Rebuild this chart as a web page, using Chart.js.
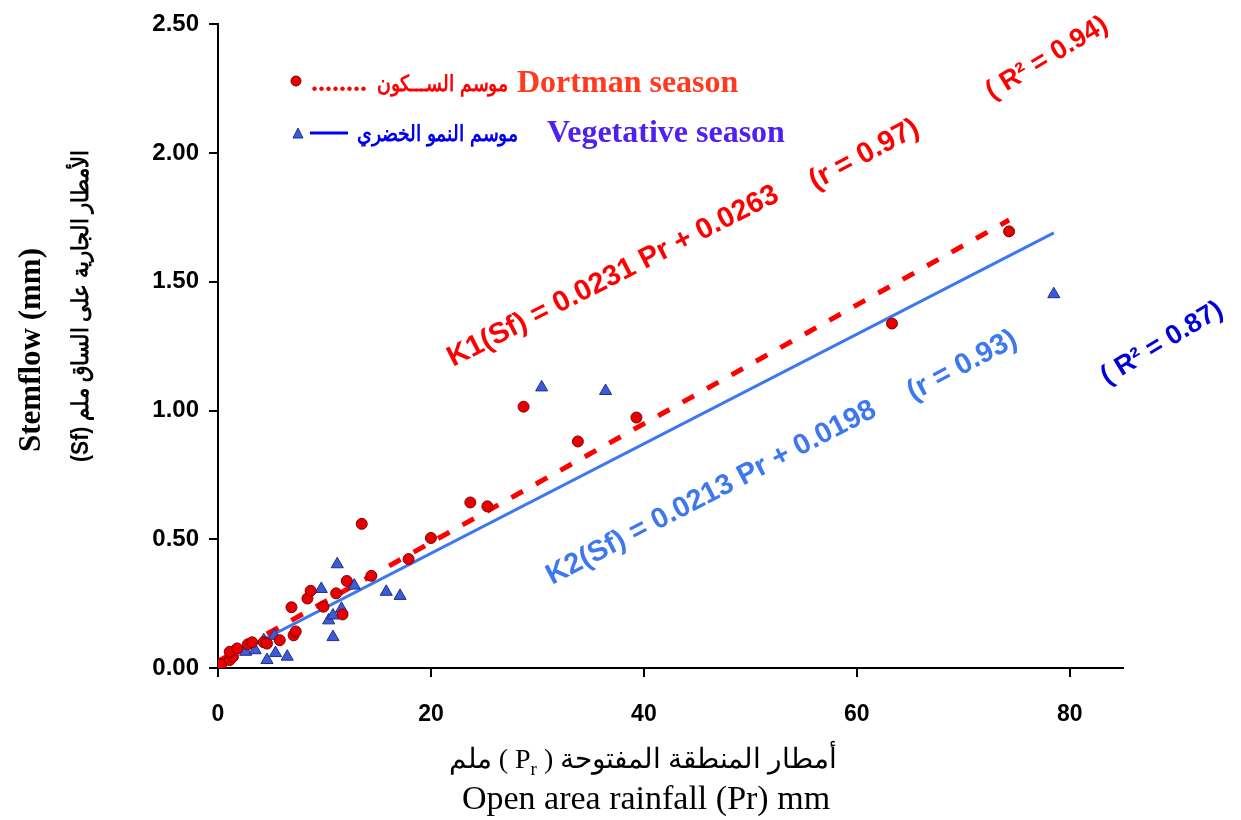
<!DOCTYPE html>
<html>
<head>
<meta charset="utf-8">
<script src="https://cdn.jsdelivr.net/npm/chart.js@4"></script>
<style>
  body { margin: 0; background: #fff; }
  #chart { display: block; }
</style>
</head>
<body>
<canvas id="chart" width="1241" height="820"></canvas>
<script>
// Dortman (dormant) season observations: open area rainfall (mm) vs stemflow (mm)
const dortX = [0.3, 1.1, 1.4, 1.1, 1.8, 2.8, 3.2, 4.3, 4.6, 5.8, 6.9, 7.1, 7.3, 8.4, 8.7, 9.9, 11.1, 11.7, 12.1, 13.5, 14.4, 17.9, 20.0, 23.7, 25.3, 28.7, 33.8, 39.3, 63.3, 74.3];
const dortY = [0.015, 0.031, 0.044, 0.063, 0.076, 0.092, 0.10, 0.10, 0.095, 0.108, 0.236, 0.127, 0.142, 0.27, 0.30, 0.238, 0.29, 0.208, 0.338, 0.56, 0.358, 0.423, 0.505, 0.643, 0.628, 1.015, 0.88, 0.973, 1.338, 1.696];

// Vegetative season observations
const vegX = [2.6, 3.5, 4.3, 4.6, 5.3, 5.4, 6.5, 9.7, 10.4, 10.8, 10.8, 11.2, 11.6, 12.8, 15.8, 17.1, 30.4, 36.4, 78.5];
const vegY = [0.063, 0.069, 0.108, 0.031, 0.125, 0.058, 0.044, 0.307, 0.185, 0.204, 0.12, 0.403, 0.23, 0.32, 0.296, 0.28, 1.09, 1.076, 1.452];

// fitted lines, end points
const dortFitX = [0, 74.3];
const dortFitY = [0.026, 1.74];
const vegFitX = [0, 78.5];
const vegFitY = [0.02, 1.69];

const xTicks = [0, 20, 40, 60, 80];
const yTicks = [0, 0.5, 1, 1.5, 2, 2.5];

const SANS = '"Liberation Sans", Arial, sans-serif';
const SERIF = '"Liberation Serif", "Times New Roman", serif';

function toPoints(xs, ys) {
    return xs.map((x, i) => ({ x: x, y: ys[i] }));
}

function rotText(ctx, text, x, y, deg, font, color) {
    ctx.save();
    ctx.translate(x, y);
    ctx.rotate(deg * Math.PI / 180);
    ctx.font = font;
    ctx.fillStyle = color;
    ctx.textAlign = "left";
    ctx.textBaseline = "alphabetic";
    ctx.fillText(text, 0, 0);
    ctx.restore();
}

// draws legend, axis titles and equation labels
const textPlugin = {
    id: "texts",
    afterDraw(chart) {
        const ctx = chart.ctx;

        // legend row 1
        ctx.save();
        ctx.beginPath();
        ctx.arc(296, 81, 5, 0, Math.PI * 2);
        ctx.fillStyle = "#e60000";
        ctx.fill();
        ctx.strokeStyle = "#800000";
        ctx.lineWidth = 1;
        ctx.stroke();

        ctx.textBaseline = "alphabetic";
        ctx.textAlign = "left";
        ctx.font = "bold 28px " + SERIF;
        ctx.fillStyle = "#ff0000";
        ctx.fillText("........", 311, 91, 57);
        ctx.font = "bold 22px " + SANS;
        ctx.fillText("موسم الســـكون", 377, 91, 131);
        ctx.font = "bold 32px " + SERIF;
        ctx.fillStyle = "#ff3a1e";
        ctx.fillText("Dortman season", 517, 92);

        // legend row 2
        ctx.beginPath();
        ctx.moveTo(298, 128);
        ctx.lineTo(303, 138);
        ctx.lineTo(293, 138);
        ctx.closePath();
        ctx.fillStyle = "#3c5cd6";
        ctx.fill();
        ctx.strokeStyle = "#1f2f8f";
        ctx.stroke();

        ctx.beginPath();
        ctx.moveTo(310, 133);
        ctx.lineTo(348, 133);
        ctx.strokeStyle = "#0000ff";
        ctx.lineWidth = 3;
        ctx.stroke();

        ctx.font = "bold 22px " + SANS;
        ctx.fillStyle = "#0000ee";
        ctx.fillText("موسم النمو الخضري", 357, 141, 161);
        ctx.font = "bold 32px " + SERIF;
        ctx.fillStyle = "#5020f0";
        ctx.fillText("Vegetative season", 547, 142);
        ctx.restore();

        // y axis titles
        ctx.save();
        ctx.translate(32, 350);
        ctx.rotate(-Math.PI / 2);
        ctx.textAlign = "center";
        ctx.textBaseline = "middle";
        ctx.font = "bold 31px " + SERIF;
        ctx.fillStyle = "#000";
        ctx.fillText("Stemflow (mm)", 0, 0);
        ctx.restore();

        ctx.save();
        ctx.translate(82, 306);
        ctx.rotate(-Math.PI / 2);
        ctx.direction = "rtl";
        ctx.textAlign = "center";
        ctx.textBaseline = "middle";
        ctx.font = "bold 23px " + SANS;
        ctx.fillStyle = "#000";
        ctx.fillText("الأمطار الجارية على الساق ملم (Sf)", 0, 0, 312);
        ctx.restore();

        // x axis titles, right-to-left line laid out piece by piece (left to right on screen)
        ctx.save();
        ctx.fillStyle = "#000";
        ctx.textBaseline = "alphabetic";
        ctx.textAlign = "left";
        const segs = [
            { t: "ملم", f: "28px " + SERIF, dy: 0, gap: 7 },
            { t: "(", f: "28px " + SERIF, dy: 0, gap: 7 },
            { t: "P", f: "28px " + SERIF, dy: 0, gap: 0 },
            { t: "r", f: "19px " + SERIF, dy: 7, gap: 7 },
            { t: ")", f: "28px " + SERIF, dy: 0, gap: 7 },
            { t: "أمطار المنطقة المفتوحة", f: "28px " + SERIF, dy: 0, gap: 0 }
        ];
        let total = 0;
        segs.forEach(s => {
            ctx.font = s.f;
            s.w = ctx.measureText(s.t).width;
            total += s.w + s.gap;
        });
        let sx = 643 - total / 2;
        segs.forEach(s => {
            ctx.font = s.f;
            ctx.fillText(s.t, sx, 768 + s.dy);
            sx += s.w + s.gap;
        });
        ctx.textAlign = "center";
        ctx.font = "34px " + SERIF;
        ctx.fillText("Open area rainfall (Pr) mm", 646, 809);
        ctx.restore();

        // equations
        const eqFont = "bold 29px " + SANS;
        rotText(ctx, "K1(Sf) = 0.0231 Pr + 0.0263", 453, 367, -27, eqFont, "#ff0000");
        rotText(ctx, "(r = 0.97)", 815, 190, -28, eqFont, "#ff0000");
        rotText(ctx, "( R² = 0.94)", 992, 100, -31, "bold 27px " + SANS, "#ff0000");
        rotText(ctx, "K2(Sf) = 0.0213 Pr + 0.0198", 552, 585, -27.5, eqFont, "#3d78f0");
        rotText(ctx, "(r = 0.93)", 913, 401, -28, eqFont, "#3d78f0");
        rotText(ctx, "( R² = 0.87)", 1107, 385, -31, "bold 27px " + SANS, "#0000dd");
    }
};

new Chart(document.getElementById("chart"), {
    type: "scatter",
    data: {
        datasets: [
            {
                label: "Dortman season",
                data: toPoints(dortX, dortY),
                pointStyle: "circle",
                pointRadius: 5.5,
                backgroundColor: "#e60000",
                borderColor: "#800000",
                borderWidth: 1,
                order: 0
            },
            {
                label: "Vegetative season",
                data: toPoints(vegX, vegY),
                pointStyle: "triangle",
                pointRadius: 7,
                backgroundColor: "#3c5cd6",
                borderColor: "#1f2f8f",
                borderWidth: 1,
                order: 0
            },
            {
                label: "K1 fit",
                data: toPoints(dortFitX, dortFitY),
                showLine: true,
                pointRadius: 0,
                borderColor: "#ff0000",
                borderWidth: 5,
                borderDash: [13, 15],
                order: 1
            },
            {
                label: "K2 fit",
                data: toPoints(vegFitX, vegFitY),
                showLine: true,
                pointRadius: 0,
                borderColor: "#3d78f0",
                borderWidth: 3,
                order: 1
            }
        ]
    },
    options: {
        responsive: false,
        animation: false,
        devicePixelRatio: 1,
        layout: { padding: { top: 18, right: 118, left: 0, bottom: 0 } },
        plugins: {
            legend: { display: false },
            tooltip: { enabled: false }
        },
        scales: {
            x: {
                type: "linear",
                min: 0,
                max: 85,
                afterFit: s => { s.height = 152; },
                afterBuildTicks: s => { s.ticks = xTicks.map(v => ({ value: v })); },
                border: { display: true, color: "#000", width: 2 },
                grid: { drawOnChartArea: false, drawTicks: true, tickLength: 9, color: "#000", lineWidth: 2 },
                ticks: {
                    color: "#000",
                    padding: 24,
                    font: { family: SANS, size: 23, weight: "bold" }
                }
            },
            y: {
                type: "linear",
                min: 0,
                max: 2.5,
                afterFit: s => { s.width = 218; },
                afterBuildTicks: s => { s.ticks = yTicks.map(v => ({ value: v })); },
                border: { display: true, color: "#000", width: 2 },
                grid: { drawOnChartArea: false, drawTicks: true, tickLength: 9, color: "#000", lineWidth: 2 },
                ticks: {
                    color: "#000",
                    padding: 10,
                    font: { family: SANS, size: 24, weight: "bold" },
                    callback: v => v.toFixed(2)
                }
            }
        }
    },
    plugins: [textPlugin]
});
</script>
</body>
</html>
